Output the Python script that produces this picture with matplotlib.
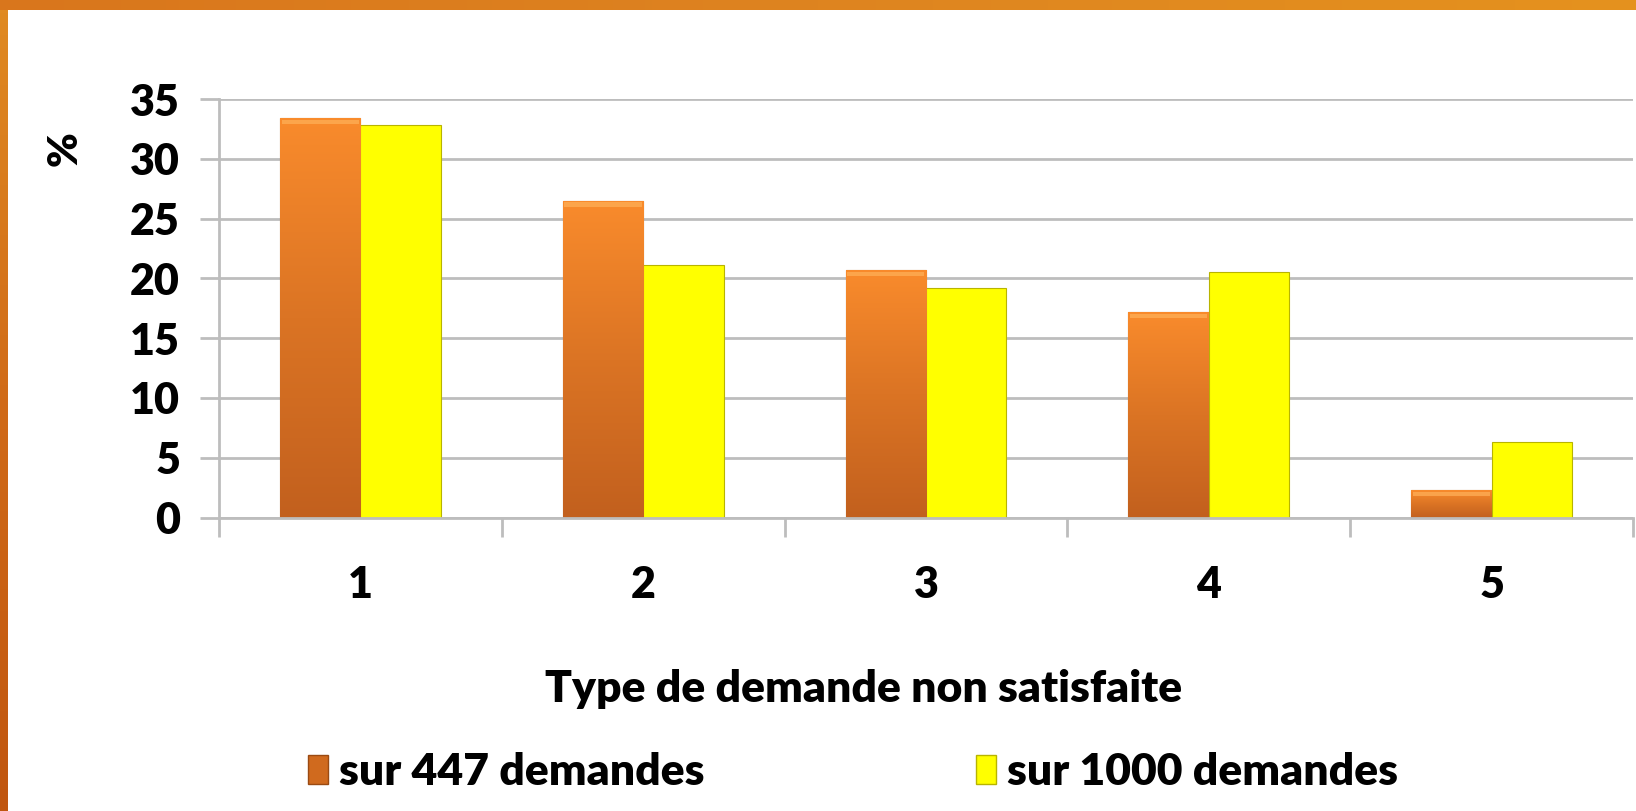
import numpy as np
import matplotlib.pyplot as plt
from matplotlib.patches import Patch
from matplotlib.colors import LinearSegmentedColormap

# data
categories = ['1', '2', '3', '4', '5']
sur_447 = [33.4, 26.5, 20.7, 17.2, 2.3]
sur_1000 = [32.8, 21.1, 19.2, 20.5, 6.3]
series_labels = ['sur 447 demandes', 'sur 1000 demandes']
yticks = [0, 5, 10, 15, 20, 25, 30, 35]

plt.rcParams['font.family'] = ['Lato', 'DejaVu Sans']
plt.rcParams['font.weight'] = 'heavy'

W, H = 1636, 811
fig = plt.figure(figsize=(W / 100, H / 100), dpi=100)
fig.patch.set_facecolor('white')

# orange frame: top strip and left strip
top = fig.add_axes([0, 1 - 10 / H, 1, 10 / H])
grad = np.linspace(0, 1, 256).reshape(1, -1)
cm_top = LinearSegmentedColormap.from_list('t', ['#D9761C', '#DE8420', '#E5921E'])
top.imshow(grad, aspect='auto', cmap=cm_top)
top.axis('off')
left = fig.add_axes([0, 0, 8 / W, 1 - 10 / H])
cm_left = LinearSegmentedColormap.from_list('l', ['#C0560F', '#D06A18', '#E08A22'])
left.imshow(np.linspace(0, 1, 256).reshape(-1, 1)[::-1], aspect='auto', cmap=cm_left)
left.axis('off')

ax = fig.add_axes([219 / W, (H - 517.6) / H, 1414 / W, (517.6 - 99) / H])
x = np.arange(1, len(categories) + 1)
w = 0.284

grid_c = '#BDBDBD'
ax.set_axisbelow(True)
ax.yaxis.grid(True, color=grid_c, linewidth=2)

b1 = ax.bar(x - w / 2, sur_447, w, color='#E07A22', edgecolor='#9A4A12', linewidth=0.8, zorder=2)
b2 = ax.bar(x + w / 2, sur_1000, w, color='#FFFF00', edgecolor='#B8B400', linewidth=0.8, zorder=2)

# gradient fill for the orange bars
cm_bar = LinearSegmentedColormap.from_list('b', ['#C2601E', '#DB7424', '#F98B2C'])
vgrad = np.linspace(1, 0, 256).reshape(-1, 1)
for r in b1:
    bx, by = r.get_x(), r.get_y()
    bw, bh = r.get_width(), r.get_height()
    im = ax.imshow(vgrad, extent=[bx, bx + bw, by, by + bh], aspect='auto',
                   cmap=cm_bar, zorder=2.1)
    im.set_clip_path(r)
    # light bevel on the top
    ax.bar(bx + bw / 2, 0.35, bw * 0.96, bottom=by + bh - 0.5, color='#FFB15A',
           alpha=0.7, linewidth=0, zorder=2.2)

ax.set_xlim(0.5, 5.5)
ax.set_ylim(0, 35)
ax.set_yticks(yticks)
ax.set_xticks(x)
ax.set_xticklabels(categories)
ax.set_xticks(np.arange(0.5, 6, 1), minor=True)

ax.tick_params(axis='y', length=14, width=2, color=grid_c, pad=14, labelsize=31)
ax.tick_params(axis='x', which='major', length=0, pad=34, labelsize=31)
ax.tick_params(axis='x', which='minor', length=14, width=2, color=grid_c)

for s in ['top', 'right']:
    ax.spines[s].set_visible(False)
for s in ['left', 'bottom']:
    ax.spines[s].set_color(grid_c)
    ax.spines[s].set_linewidth(2)

fig.text(65 / W, 1 - 149 / H, '%', rotation=90, ha='center', va='center',
         fontsize=30)
fig.text(864 / W, 1 - 689 / H, 'Type de demande non satisfaite', ha='center',
         va='center', fontsize=32)

handles = [Patch(facecolor='#D06A1E', edgecolor='#9A4A12'),
           Patch(facecolor='#FFFF00', edgecolor='#B8B400')]
fig.legend(handles, series_labels, loc='center', bbox_to_anchor=(853 / W, 1 - 772 / H),
           ncol=2, frameon=False, fontsize=32, handlelength=0.45, handleheight=0.65,
           handletextpad=0.25, columnspacing=6.1)

fig.savefig('out.png', dpi=100, facecolor='white')
